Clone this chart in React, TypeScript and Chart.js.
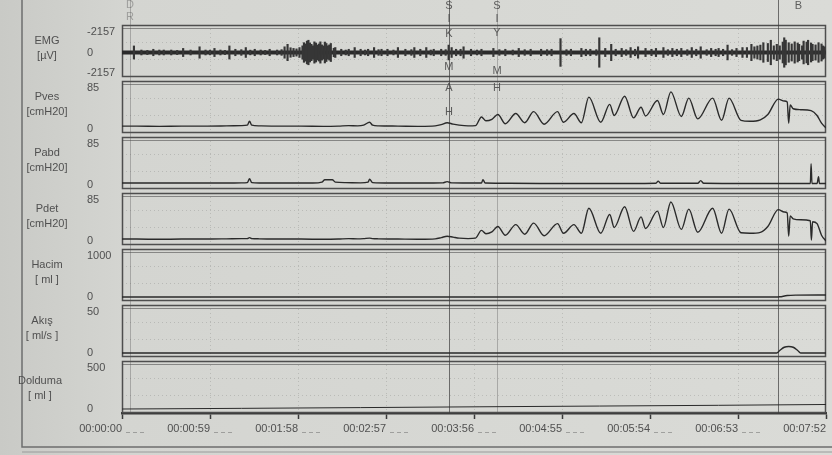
import React, { useEffect, useRef } from 'react';
import { Chart, registerables } from 'chart.js';

Chart.register(...registerables);

// ---- channels ----
const channelNames = ['EMG', 'Pves', 'Pabd', 'Pdet', 'Hacim', 'Akış', 'Dolduma'];
const channelUnits = ['[µV]', '[cmH20]', '[cmH20]', '[cmH20]', '[ ml ]', '[ ml/s ]', '[ ml ]'];
const channelMin = [-2157, 0, 0, 0, 0, 0, 0];
const channelMax = [2157, 85, 85, 85, 1000, 50, 500];
const emgTickLabels = ['-2157', '0', '-2157'];

// ---- time axis (seconds) ----
const xTickSeconds = [0, 59, 118, 177, 236, 295, 354, 413, 472];
const xTickLabels = ['00:00:00', '00:00:59', '00:01:58', '00:02:57', '00:03:56', '00:04:55', '00:05:54', '00:06:53', '00:07:52'];

// ---- event markers ----
const markerSeconds = [5.4, 219.2, 251.4, 439.5];
const markerLetters = [['D', 'R'], ['S', 'I', 'K', 'M', 'A', 'H'], ['S', 'I', 'Y', 'M', 'H'], ['B']];

// ---- EMG bursts (time s, amplitude µV) ----
const emgT = [8, 13, 21, 25, 28, 33, 41, 46, 52, 56, 62, 66, 72, 76, 83, 89, 93, 99, 104, 109, 111, 115, 119, 122, 124, 125, 127, 129, 131, 133, 135, 137, 140, 143, 147, 152, 156, 160, 165, 169, 174, 178, 185, 190, 196, 200, 204, 209, 214, 219, 221, 224, 229, 234, 241, 249, 257, 266, 274, 281, 288, 294, 301, 308, 314, 320, 324, 328, 335, 341, 346, 351, 358, 363, 369, 375, 382, 388, 395, 400, 406, 412, 416, 422, 426, 430, 435, 439, 444, 447, 451, 454, 457, 460, 463, 467, 470];
const emgA = [690, 260, 340, 260, 260, 260, 430, 260, 600, 260, 430, 260, 690, 340, 520, 340, 260, 340, 260, 600, 860, 430, 520, 1030, 1200, 1290, 860, 1120, 780, 1120, 690, 950, 950, 520, 340, 340, 520, 340, 340, 520, 340, 340, 520, 340, 520, 340, 520, 340, 340, 780, 520, 340, 600, 340, 340, 430, 340, 430, 340, 340, 340, 1460, 340, 430, 340, 1550, 430, 860, 430, 520, 600, 430, 430, 520, 430, 430, 520, 600, 430, 430, 780, 430, 520, 860, 690, 1030, 1290, 860, 1550, 1030, 1120, 860, 1200, 1290, 860, 1030, 690];
const emgDenseT = [17, 37, 59, 69, 80, 86, 96, 107, 113, 117, 121, 123, 126, 128, 130, 132, 134, 136, 138, 139, 142, 150, 163, 172, 182, 194, 207, 217, 227, 238, 253, 262, 270, 285, 298, 311, 318, 331, 338, 344, 355, 366, 372, 379, 385, 392, 398, 403, 409, 419, 424, 428, 433, 437, 441, 443, 445, 449, 453, 456, 459, 462, 465, 469, 471];
const emgDenseA = [220, 220, 250, 220, 300, 250, 220, 300, 500, 380, 700, 900, 1000, 700, 1000, 900, 800, 1100, 700, 800, 450, 260, 260, 300, 260, 300, 260, 300, 340, 260, 300, 260, 300, 300, 300, 340, 300, 340, 300, 340, 340, 300, 340, 300, 340, 300, 340, 340, 300, 520, 600, 780, 950, 700, 700, 1100, 1300, 900, 1000, 700, 1100, 1000, 800, 900, 600];

// ---- Pves ----
const pvesT = [0, 10, 25, 40, 55, 70, 80, 84, 85.5, 87, 92, 105, 120, 135, 145, 152, 158, 162, 166, 168, 172, 185, 200, 210, 214, 218, 222, 226, 232, 237, 241, 244, 248, 252, 257, 264, 270, 276, 283, 292, 296, 303, 308, 313, 321, 327, 330, 337, 343, 348, 351, 359, 363, 368, 375, 380, 386, 396, 402, 407, 415, 421, 428, 433, 440, 444, 446, 447, 448, 450, 455, 462, 466, 469, 472];
const pvesV = [6, 6, 5.5, 6, 6, 6.5, 7, 8, 16, 8, 6.5, 6, 6, 5.5, 6, 7, 6.5, 8, 14, 8, 6.5, 6, 5.5, 6.5, 9, 13, 10, 8, 6.5, 7, 25, 17, 20, 30, 11, 32, 13, 36, 10, 36, 14, 32, 13, 66, 14, 51, 28, 68, 23, 45, 27, 59, 30, 77, 26, 64, 21, 64, 18, 64, 18, 16, 19, 30, 62, 58, 56, 12, 50, 42, 40, 38, 28, 12, 2];

// ---- Pabd ----
const pabdT = [0, 40, 70, 80, 84, 85.5, 87, 92, 110, 128, 134, 136, 141, 143, 150, 160, 165, 166, 168, 180, 200, 215, 218, 221, 238, 241, 242, 243.5, 260, 300, 340, 358, 359.5, 361, 386, 388, 390, 420, 440, 461.5, 462, 462.6, 466, 467, 467.6, 472];
const pabdV = [4, 4, 4, 4.5, 5, 13, 5, 4, 4, 4, 6, 11, 11, 6, 5, 4.5, 6, 12, 5, 4, 4, 4.5, 7, 4.5, 4, 4, 11, 4, 3.5, 3, 3, 3.5, 8, 3.5, 3.5, 9, 3.5, 3, 3, 3, 44, 3, 3, 17, 3, 3];

// ---- Pdet ----
const pdetT = [0, 10, 25, 40, 55, 70, 80, 84, 85.5, 87, 92, 105, 120, 135, 145, 152, 158, 162, 166, 168, 172, 185, 200, 210, 214, 218, 222, 226, 232, 237, 241, 244, 248, 252, 257, 264, 270, 276, 283, 292, 296, 303, 308, 313, 321, 327, 330, 337, 343, 348, 351, 359, 363, 368, 375, 380, 386, 396, 402, 407, 415, 421, 428, 433, 440, 444, 446, 447, 448, 450, 455, 461.5, 462.2, 463, 466, 469, 472];
const pdetV = [4, 4, 3.5, 4, 4, 4.5, 5, 5, 7, 5, 4.5, 4, 4, 3.5, 4, 5, 4.5, 5, 6, 5, 4.5, 4, 3.5, 4.5, 7, 10, 8, 6, 5, 6, 22, 15, 19, 30, 12, 34, 14, 37, 11, 36, 16, 34, 16, 68, 16, 55, 28, 71, 20, 50, 26, 62, 28, 81, 24, 66, 18, 68, 16, 66, 17, 16, 18, 30, 65, 60, 58, 10, 52, 46, 44, 42, 2, 40, 36, 12, 0];

// ---- Hacim / Akış / Dolduma ----
const hacimT = [0, 150, 300, 439, 441, 446, 452, 472];
const hacimV = [0, 0, 0, 0, 5, 35, 45, 50];
const akisT = [0, 200, 439, 441, 444, 447, 450, 453, 455, 472];
const akisV = [0, 0, 0, 3, 7, 8, 7, 3, 0, 0];
const doldumaT = [0, 80, 160, 240, 320, 400, 472];
const doldumaV = [0, 8, 17, 27, 36, 45, 55];

const FONT = 'Liberation Sans, Arial, sans-serif';
const TEXT = '#505050';
const TRACE = '#2a2a2a';

const pts = (t: number[], v: number[]) => t.map((x, i) => ({ x, y: v[i] }));

const panelPlugin = {
  id: 'panels',
  beforeDraw(chart: any) {
    const { ctx, width, height } = chart;
    ctx.save();
    const g = ctx.createLinearGradient(0, 0, width, 0);
    g.addColorStop(0, '#c9cac6');
    g.addColorStop(0.15, '#d4d5d1');
    g.addColorStop(1, '#dadbd7');
    ctx.fillStyle = g;
    ctx.fillRect(0, 0, width, height);
    ctx.strokeStyle = '#6e6e6e';
    ctx.lineWidth = 1.5;
    ctx.beginPath();
    ctx.moveTo(22, 0);
    ctx.lineTo(22, 447);
    ctx.lineTo(width, 447);
    ctx.stroke();
    ctx.strokeStyle = '#9a9a9a';
    ctx.lineWidth = 1;
    ctx.beginPath();
    ctx.moveTo(22, 452);
    ctx.lineTo(width, 452);
    ctx.stroke();
    ctx.restore();
  },
  beforeDatasetsDraw(chart: any) {
    const { ctx, chartArea } = chart;
    const xs = chart.scales.x;
    const left = chartArea.left;
    const right = chartArea.right;
    ctx.save();
    channelNames.forEach((name, i) => {
      const s = chart.scales['y' + i];
      const top = s.top + 4;
      const bottom = s.bottom - 1;
      ctx.strokeStyle = 'rgba(0,0,0,0.13)';
      ctx.lineWidth = 1;
      ctx.setLineDash([1, 3]);
      ctx.beginPath();
      for (let k = 1; k < 3; k++) {
        const y = Math.round(top + ((bottom - top) * k) / 3) + 0.5;
        ctx.moveTo(left, y);
        ctx.lineTo(right, y);
      }
      xTickSeconds.forEach((t, k) => {
        if (k === 0 || k === xTickSeconds.length - 1) return;
        const x = Math.round(xs.getPixelForValue(t)) + 0.5;
        ctx.moveTo(x, top);
        ctx.lineTo(x, bottom);
      });
      ctx.stroke();
      ctx.setLineDash([]);
      ctx.strokeStyle = '#4e4e4e';
      ctx.lineWidth = 1.5;
      ctx.strokeRect(left + 0.5, top + 0.5, right - left - 1, bottom - top);
      ctx.strokeStyle = 'rgba(70,70,70,0.55)';
      ctx.lineWidth = 1;
      ctx.beginPath();
      ctx.moveTo(left, top + 3.5);
      ctx.lineTo(right, top + 3.5);
      ctx.stroke();
      ctx.fillStyle = TEXT;
      ctx.font = `11px ${FONT}`;
      ctx.textAlign = 'center';
      ctx.textBaseline = 'middle';
      const cy = (top + bottom) / 2;
      const cx = i === 6 ? 40 : i === 5 ? 42 : 47;
      const dy = i === 6 ? 4 : 0;
      ctx.fillText(name, cx, cy - 10 + dy);
      ctx.fillText(channelUnits[i], cx, cy + 5 + dy);
    });
    markerSeconds.forEach((t, k) => {
      const x = Math.round(xs.getPixelForValue(t)) + 0.5;
      ctx.strokeStyle = k === 2 || k === 0 ? 'rgba(80,80,80,0.35)' : 'rgba(60,60,60,0.7)';
      ctx.lineWidth = 1;
      ctx.beginPath();
      ctx.moveTo(x, 0);
      ctx.lineTo(x, chartArea.bottom);
      ctx.stroke();
    });
    ctx.restore();
  },
  afterDraw(chart: any) {
    const { ctx } = chart;
    const xs = chart.scales.x;
    ctx.save();
    ctx.font = `11px ${FONT}`;
    ctx.textAlign = 'center';
    ctx.textBaseline = 'top';
    const letterY = [[-1, 11], [0, 13, 28, 61, 82, 106], [0, 13, 27, 65, 82], [0]];
    markerSeconds.forEach((t, k) => {
      const x = xs.getPixelForValue(t) + (k === 3 ? 21 : 0);
      ctx.fillStyle = k === 0 ? 'rgba(90,90,90,0.45)' : 'rgba(70,70,70,0.85)';
      markerLetters[k].forEach((ch, j) => ctx.fillText(ch, x, letterY[k][j]));
    });
    ctx.strokeStyle = 'rgba(90,90,90,0.45)';
    ctx.setLineDash([4, 3]);
    ctx.lineWidth = 1;
    ctx.beginPath();
    xTickSeconds.forEach((t, k) => {
      if (k === xTickSeconds.length - 1) return;
      const x = xs.getPixelForValue(t);
      ctx.moveTo(x + 4, 432.5);
      ctx.lineTo(x + 24, 432.5);
    });
    ctx.stroke();
    ctx.restore();
  },
};

export default function App() {
  const ref = useRef<HTMLCanvasElement>(null);

  useEffect(() => {
    const font = { family: FONT, size: 11 };
    const scales: any = {
      x: {
        type: 'linear',
        position: 'bottom',
        offset: false,
        min: 0,
        max: 472,
        afterBuildTicks: (s: any) => {
          s.ticks = xTickSeconds.map((v) => ({ value: v }));
        },
        ticks: {
          callback: (_v: any, i: number) => xTickLabels[i],
          align: 'end',
          maxRotation: 0,
          autoSkip: false,
          font,
          color: TEXT,
          padding: 3,
        },
        grid: { drawOnChartArea: false, offset: false, tickLength: 6, tickColor: '#3a3a3a', tickWidth: 1.5 },
        border: { color: '#3a3a3a', width: 2.5 },
        afterFit: (s: any) => {
          s.height = 28;
        },
      },
    };
    channelNames.forEach((_n, i) => {
      const lo = channelMin[i];
      const hi = channelMax[i];
      const span = hi - lo;
      scales['y' + i] = {
        type: 'linear',
        position: 'left',
        stack: 'panels',
        stackWeight: 1,
        weight: 10 - i,
        min: lo - (span * 4) / 41,
        max: hi + (span * 11) / 41,
        afterBuildTicks: (s: any) => {
          s.ticks = (i === 0 ? [lo, 0, hi] : [lo, hi]).map((v) => ({ value: v }));
        },
        ticks: {
          callback: (v: any, idx: number) => (i === 0 ? emgTickLabels[idx] : String(v)),
          crossAlign: 'far',
          padding: 0,
          autoSkip: false,
          font,
          color: TEXT,
        },
        grid: { display: false, drawTicks: false },
        border: { display: false },
        afterFit: (s: any) => {
          s.width = 35;
        },
      };
    });

    const line = (data: any, axis: string, w = 1.4) => ({
      type: 'line',
      data,
      yAxisID: axis,
      borderColor: TRACE,
      borderWidth: w,
      pointRadius: 0,
      tension: 0.4,
      cubicInterpolationMode: 'monotone',
    });

    const emgBars = [
      ...emgT.map((x, i) => ({ x, y: [-emgA[i], emgA[i]] })),
      ...emgDenseT.map((x, i) => ({ x, y: [-emgDenseA[i], emgDenseA[i]] })),
    ];

    const chart = new Chart(ref.current as HTMLCanvasElement, {
      type: 'line',
      data: {
        datasets: [
          {
            type: 'bar',
            data: emgBars,
            yAxisID: 'y0',
            backgroundColor: '#363636',
            barThickness: 1.5,
            grouped: false,
          } as any,
          { ...line([{ x: 0, y: 0 }, { x: 472, y: 0 }], 'y0', 4), tension: 0 },
          line(pts(pvesT, pvesV), 'y1'),
          line(pts(pabdT, pabdV), 'y2'),
          line(pts(pdetT, pdetV), 'y3'),
          line(pts(hacimT, hacimV), 'y4'),
          line(pts(akisT, akisV), 'y5'),
          line(pts(doldumaT, doldumaV), 'y6', 1),
        ] as any,
      },
      options: {
        responsive: false,
        animation: false,
        layout: { padding: { left: 87, right: 6, top: 21, bottom: 14 } },
        plugins: { legend: { display: false }, tooltip: { enabled: false } },
        events: [],
        scales,
      } as any,
      plugins: [panelPlugin],
    });
    return () => chart.destroy();
  }, []);

  return (
    <div style={{ position: 'fixed', left: 0, top: 0, width: 832, height: 455 }}>
      <canvas ref={ref} width={832} height={455} style={{ display: 'block' }} />
    </div>
  );
}
